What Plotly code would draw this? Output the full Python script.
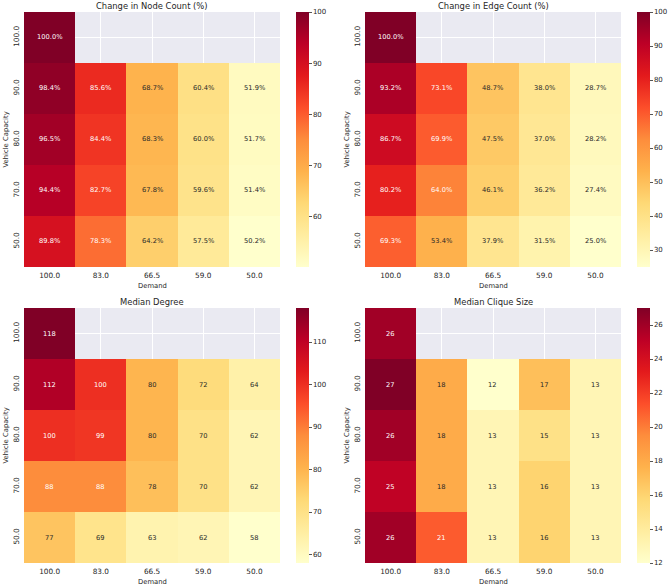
import plotly.graph_objects as go

# ---------------- data ----------------
demand = ["100.0", "83.0", "66.5", "59.0", "50.0"]
capacity = ["100.0", "90.0", "80.0", "70.0", "50.0"]

node_change = [
    [100.0, None, None, None, None],
    [98.4, 85.6, 68.7, 60.4, 51.9],
    [96.5, 84.4, 68.3, 60.0, 51.7],
    [94.4, 82.7, 67.8, 59.6, 51.4],
    [89.8, 78.3, 64.2, 57.5, 50.2],
]
edge_change = [
    [100.0, None, None, None, None],
    [93.2, 73.1, 48.7, 38.0, 28.7],
    [86.7, 69.9, 47.5, 37.0, 28.2],
    [80.2, 64.0, 46.1, 36.2, 27.4],
    [69.3, 53.4, 37.9, 31.5, 25.0],
]
median_degree = [
    [118, None, None, None, None],
    [112, 100, 80, 72, 64],
    [100, 99, 80, 70, 62],
    [88, 88, 78, 70, 62],
    [77, 69, 63, 62, 58],
]
median_clique = [
    [26, None, None, None, None],
    [27, 18, 12, 17, 13],
    [26, 18, 13, 15, 13],
    [25, 18, 13, 16, 13],
    [26, 21, 13, 16, 13],
]

titles = ["Change in Node Count (%)", "Change in Edge Count (%)",
          "Median Degree", "Median Clique Size"]
fmts = ["{:.1f}%", "{:.1f}%", "{:.0f}", "{:.0f}"]
cbar_ticks = [
    [60, 70, 80, 90, 100],
    [30, 40, 50, 60, 70, 80, 90, 100],
    [60, 70, 80, 90, 100, 110],
    [12, 14, 16, 18, 20, 22, 24, 26],
]
datasets = [node_change, edge_change, median_degree, median_clique]

# matplotlib YlOrRd
ylorrd = ["#ffffcc", "#ffeda0", "#fed976", "#feb24c", "#fd8d3c",
          "#fc4e2a", "#e31a1c", "#bd0026", "#800026"]
colorscale = [[i / (len(ylorrd) - 1), c] for i, c in enumerate(ylorrd)]


def hex2rgb(h):
    h = h.lstrip("#")
    return [int(h[i:i + 2], 16) / 255 for i in (0, 2, 4)]


def cmap(t):
    t = min(max(t, 0), 1)
    n = len(ylorrd) - 1
    k = min(int(t * n), n - 1)
    f = t * n - k
    a, b = hex2rgb(ylorrd[k]), hex2rgb(ylorrd[k + 1])
    return [a[j] + (b[j] - a[j]) * f for j in range(3)]


def lum(rgb):
    lin = [c / 12.92 if c <= 0.03928 else ((c + 0.055) / 1.055) ** 2.4 for c in rgb]
    return 0.2126 * lin[0] + 0.7152 * lin[1] + 0.0722 * lin[2]


W, H = 669, 586
FONT = "DejaVu Sans"
TXT = "#262626"

# pixel geometry of panels: (left, right, top, bottom), colorbar left
panels = [
    (24, 280, 12, 267, 296),
    (365, 621, 12, 267, 637),
    (24, 280, 308, 563, 296),
    (365, 621, 308, 563, 637),
]

fig = go.Figure()
annotations = []
layout_axes = {}

for i, (data, title, fmt, ticks) in enumerate(zip(datasets, titles, fmts, cbar_ticks)):
    l, r, t, b, cbl = panels[i]
    xd = [l / W, r / W]
    yd = [(H - b) / H, (H - t) / H]
    vals = [v for row in data for v in row if v is not None]
    zmin, zmax = min(vals), max(vals)
    xa = "x" if i == 0 else f"x{i + 1}"
    ya = "y" if i == 0 else f"y{i + 1}"
    fig.add_trace(go.Heatmap(
        z=data, x=demand, y=capacity, xaxis=xa, yaxis=ya,
        zmin=zmin, zmax=zmax, colorscale=colorscale, hoverongaps=False,
        xgap=0, ygap=0,
        colorbar=dict(
            x=cbl / W, xanchor="left", xpad=0, ypad=0,
            y=(H - (t + b) / 2) / H, yanchor="middle",
            len=(b - t), lenmode="pixels", thickness=13,
            thicknessmode="pixels", outlinewidth=0,
            tickvals=ticks, ticks="outside", ticklen=3, tickwidth=1,
            tickcolor="#555555",
            tickfont=dict(family=FONT, size=7, color=TXT),
        ),
    ))
    xkey = "xaxis" if i == 0 else f"xaxis{i + 1}"
    ykey = "yaxis" if i == 0 else f"yaxis{i + 1}"
    layout_axes[xkey] = dict(
        domain=xd, anchor=ya, type="category", showgrid=True,
        gridcolor="white", gridwidth=1, zeroline=False, ticks="",
        showline=False, tickfont=dict(family=FONT, size=7.3, color=TXT),
        ticklabelstandoff=3, range=[-0.5, len(demand) - 0.5],
    )
    layout_axes[ykey] = dict(
        domain=yd, anchor=xa, type="category",
        range=[len(capacity) - 0.5, -0.5],
        showgrid=True, gridcolor="white", gridwidth=1, zeroline=False,
        ticks="", showline=False, tickangle=-90,
        tickfont=dict(family=FONT, size=7.3, color=TXT),
        ticklabelstandoff=3,
    )
    # cell annotations (category index positions)
    for ri, row in enumerate(data):
        for ci, v in enumerate(row):
            if v is None:
                continue
            col = cmap((v - zmin) / (zmax - zmin))
            tc = TXT if lum(col) > 0.408 else "white"
            annotations.append(dict(
                x=ci, y=ri, xref=xa, yref=ya,
                text=fmt.format(v), showarrow=False,
                font=dict(family=FONT, size=6.7, color=tc),
            ))
    # title
    annotations.append(dict(
        x=(l + r) / 2 / W, y=(H - (t - 6)) / H, xref="paper", yref="paper",
        text=title, showarrow=False, xanchor="center", yanchor="middle",
        font=dict(family=FONT, size=8.4, color=TXT),
    ))
    # x axis title
    annotations.append(dict(
        x=(l + r) / 2 / W, y=(H - (b + 19)) / H, xref="paper", yref="paper",
        text="Demand", showarrow=False, xanchor="center", yanchor="middle",
        font=dict(family=FONT, size=6.8, color=TXT),
    ))
    # y axis title
    annotations.append(dict(
        x=(l - 19) / W, y=(H - (t + b) / 2) / H, xref="paper", yref="paper",
        text="Vehicle Capacity", showarrow=False, xanchor="center",
        yanchor="middle", textangle=-90,
        font=dict(family=FONT, size=6.8, color=TXT),
    ))

fig.update_layout(
    width=W, height=H, margin=dict(l=0, r=0, t=0, b=0),
    paper_bgcolor="white", plot_bgcolor="#EAEAF2",
    annotations=annotations, showlegend=False,
    font=dict(family=FONT, color=TXT),
    **layout_axes,
)

fig.write_html("out.html")
